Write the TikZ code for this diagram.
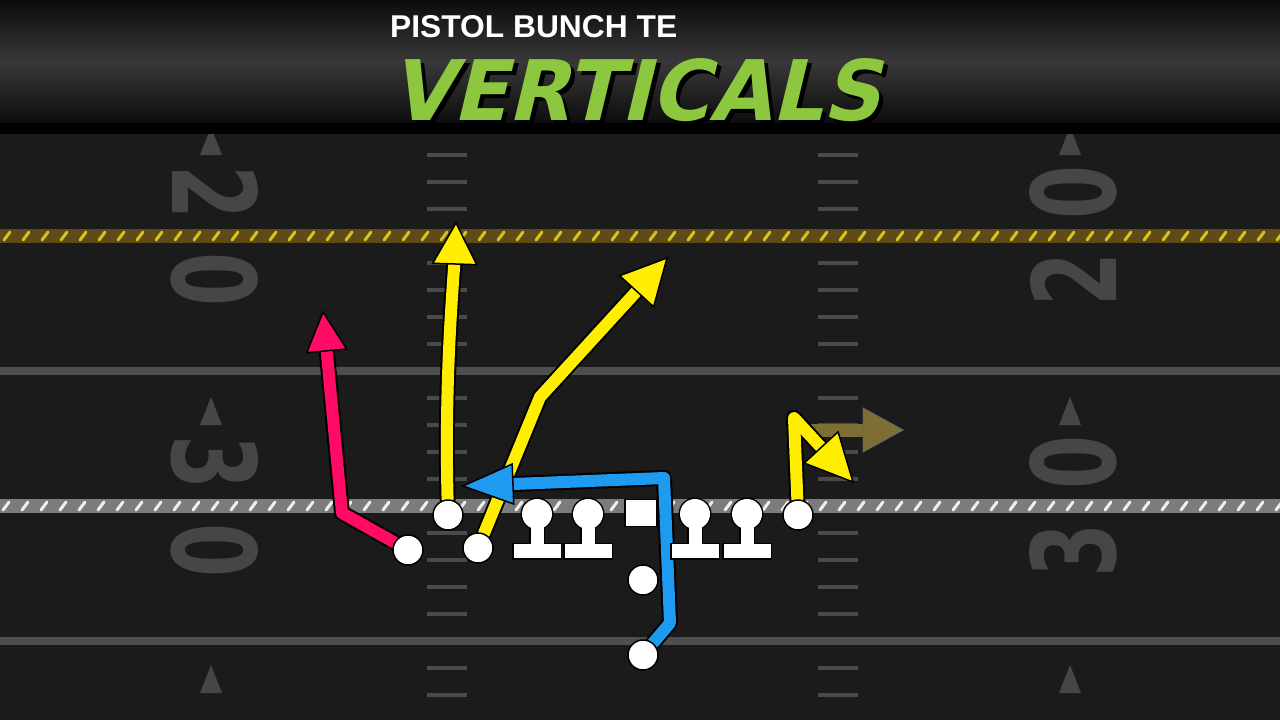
\documentclass[tikz,border=0pt]{standalone}
\usepackage{fontspec}
\usetikzlibrary{calc}
\setmainfont{Liberation Sans}
\newfontfamily\ttlfont[FakeSlant=0.25]{DejaVu Sans}
\newfontfamily\numfont{DejaVu Sans}
\definecolor{fieldbg}{HTML}{1B1B1B}
\definecolor{yardgray}{HTML}{4E4E4E}
\definecolor{numgray}{HTML}{464646}
\definecolor{hashgray}{HTML}{4A4A4A}
\definecolor{hdark}{HTML}{0C0C0C}
\definecolor{hmid}{HTML}{383838}
\definecolor{ylw}{HTML}{FFEE00}
\definecolor{rpink}{HTML}{FF0A64}
\definecolor{rblue}{HTML}{1E9BF0}
\definecolor{rolive}{HTML}{7D6E34}
\definecolor{tgreen}{HTML}{8DC63F}
\definecolor{losband}{HTML}{7C7C7C}
\definecolor{losslash}{HTML}{EEEEEE}
\definecolor{fdband}{HTML}{5E4C18}
\definecolor{fdslash}{HTML}{D8C020}
\pgfdeclarelayer{field}
\pgfdeclarelayer{routes}
\pgfsetlayers{field,routes,main}
\newcommand{\rhead}[5]{% tip, point behind, colour, length, half width
  \filldraw[fill=#3, draw=black, line width=1.5pt, line join=miter]
    (#1) -- ($(#1)!#4!(#2)!#5!90:(#1)$) -- ($(#1)!#4!(#2)!#5!-90:(#1)$) -- cycle;}
\newcommand{\ttltext}{\ttlfont\bfseries VERTICALS}
\tikzset{
  player/.style={circle, fill=white, draw=black, line width=1.5pt, minimum size=30pt, inner sep=0pt},
  hashmk/.style={draw=hashgray, line width=4pt},
  yardln/.style={draw=yardgray, line width=8pt},
  numL/.style={text=numgray, inner sep=0pt, rotate=-90, font=\numfont\bfseries},
  numR/.style={text=numgray, inner sep=0pt, rotate=90, font=\numfont\bfseries},
  marker/.style={fill=numgray},
  route/.style={line width=12pt, line join=round, line cap=round,
    preaction={draw=black, line width=16pt, line join=round, line cap=round}},
  lineman/.pic={
    \fill[black] (-25,28.5) rectangle (25,45.5);
    \fill[black] (-8,0) rectangle (8,30);
    \fill[black] (0,0) circle (16.5);
    \fill[white] (-23.5,30) rectangle (23.5,44);
    \fill[white] (-6.5,0) rectangle (6.5,31);
    \fill[white] (0,0) circle (15);
    \node[circle, minimum size=30pt, inner sep=0pt] (-h) at (0,0) {};
  }
}
\begin{document}
\begin{tikzpicture}[x=1pt,y=-1pt]
\useasboundingbox (0,0) rectangle (1280,720);
\begin{pgfonlayer}{field}
\fill[fieldbg] (0,0) rectangle (1280,720);
% yard lines
\draw[yardln] (0,371) -- (1280,371);
\draw[yardln] (0,641) -- (1280,641);
% hash marks
\foreach \k in {-3,-2,-1,1,2,3,4,6,7,8,9,11,12,13,14,16,17} {
  \draw[hashmk] (427,{236+27*\k}) -- (467,{236+27*\k});
  \draw[hashmk] (818,{236+27*\k}) -- (858,{236+27*\k});
}
% yard numbers
\node[numL] (l2) at (215,193) {\resizebox{54pt}{86pt}{2}};
\node[numL] (l0) at (215,280) {\resizebox{54pt}{86pt}{0}};
\node[numL] (l3) at (215,462) {\resizebox{54pt}{86pt}{3}};
\node[numL] (l0b) at (215,550) {\resizebox{54pt}{86pt}{0}};
\node[numR] (r0) at (1073,192) {\resizebox{54pt}{86pt}{0}};
\node[numR] (r2) at (1073,279) {\resizebox{54pt}{86pt}{2}};
\node[numR] (r0b) at (1073,462) {\resizebox{54pt}{86pt}{0}};
\node[numR] (r3) at (1073,550) {\resizebox{54pt}{86pt}{3}};
% direction markers
\foreach \yb in {155,425,693} {
  \fill[marker] (200,\yb) -- (211,{\yb-28}) -- (222,\yb) -- cycle;
  \fill[marker] (1059,\yb) -- (1070,{\yb-28}) -- (1081,\yb) -- cycle;
}
% first down line
\fill[fdband] (0,229) rectangle (1280,243);
\foreach \i in {0,...,67} {
  \draw[fdslash, line width=3pt, line cap=round] ({\i*19+4},240) -- ({\i*19+10},232);
}
% line of scrimmage
\fill[losband] (0,499) rectangle (1280,513);
\foreach \i in {0,...,67} {
  \draw[losslash, line width=3pt, line cap=round] ({\i*19+3},510) -- ({\i*19+9},502);
}
% header
\shade[top color=hdark, bottom color=hdark, middle color=hmid] (0,0) rectangle (1280,124);
\fill[black] (0,123) rectangle (1280,134);
\end{pgfonlayer}

% title
\node[anchor=north west, inner sep=0pt, text=white] (t1) at (390,15)
  {\resizebox{287pt}{22pt}{\bfseries PISTOL BUNCH TE}};
\node[anchor=north west, inner sep=0pt] (t2) at (390,58)
  {\resizebox{490pt}{62pt}{\rlap{\hspace{0.5pt}\raisebox{-0.5pt}{\color{black}\ttltext}}\color{tgreen}\ttltext}};

% players
\node[player] (wl) at (408,550) {};
\node[player] (sl) at (448,515) {};
\node[player] (tl) at (478,548) {};
\node[player] (te) at (798,515) {};
\node[player] (qb) at (643,580) {};
\node[player] (rb) at (643,655) {};
\pic (lt) at (537,514) {lineman};
\pic (lg) at (588,514) {lineman};
\pic (rg) at (695,514) {lineman};
\pic (rt) at (747,514) {lineman};
\node[rectangle, fill=white, draw=black, line width=1.5pt, minimum width=32pt, minimum height=27pt, inner sep=0pt] (c) at (641,513) {};

% routes
\begin{pgfonlayer}{routes}
\coordinate (pk) at (342,513);
\coordinate (pt) at (323,312);
\coordinate (pb) at ($(pt)!30pt!(pk)$);
\draw[route, draw=rpink] (wl) -- (pk) -- (pb);
\rhead{pt}{pk}{rpink}{39pt}{20pt}

\coordinate (yat) at (456,223);
\coordinate (yab) at (455,255);
\draw[route, draw=ylw] (sl) .. controls (445,400) and (450,320) .. (yab);
\rhead{yat}{yab}{ylw}{41pt}{22pt}

\coordinate (ydk) at (540,397);
\coordinate (ydt) at (667,258);
\coordinate (ydb) at ($(ydt)!32pt!(ydk)$);
\draw[route, draw=ylw] (tl) -- (ydk) -- (ydb);
\rhead{ydt}{ydk}{ylw}{45pt}{23pt}

\coordinate (ot) at (903,430);
\coordinate (os) at (806,430);
\coordinate (ob) at ($(ot)!30pt!(os)$);
\draw[line width=13pt, draw=rolive] (os) -- (ob);
\filldraw[fill=rolive, draw=black!60, line width=1pt] (ot) -- (863,408) -- (863,452) -- cycle;

\coordinate (tek) at (794,418);
\coordinate (tet) at (853,482);
\coordinate (teb) at ($(tet)!32pt!(tek)$);
\draw[route, draw=ylw] (te) -- (tek) -- (teb);
\rhead{tet}{tek}{ylw}{47pt}{23pt}

\coordinate (bk1) at (670,623);
\coordinate (bk2) at (664,478);
\coordinate (bt) at (463,486);
\coordinate (bb) at ($(bt)!36pt!(bk2)$);
\draw[route, draw=rblue] (rb) -- (bk1) -- (bk2) -- (bb);
\rhead{bt}{bk2}{rblue}{50pt}{20pt}
\end{pgfonlayer}
\end{tikzpicture}
\end{document}
